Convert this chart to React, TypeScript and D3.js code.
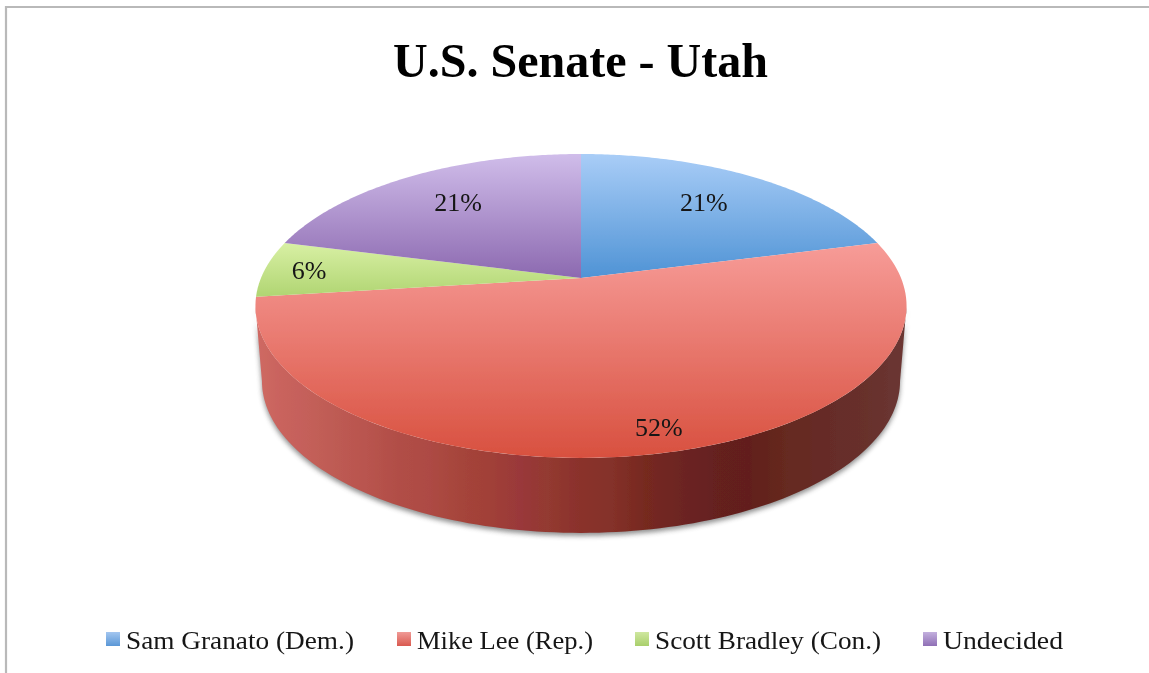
import * as d3 from 'd3';

const candidates = ['Sam Granato (Dem.)', 'Mike Lee (Rep.)', 'Scott Bradley (Con.)', 'Undecided'];
const shares = [21, 52, 6, 21];

// top / bottom colour of each slice's vertical gradient
const topColors = ['#a9cdf7', '#f79c98', '#d8f0a4', '#d0bdea'];
const bottomColors = ['#4f93d5', '#d8503f', '#b0d572', '#8c69b0'];
const legendTop = ['#a3c6f0', '#f09a96', '#cfe7a0', '#c3b0de'];
const legendBottom = ['#5a97d6', '#d95a50', '#a9cf6b', '#8f6fb5'];

// side wall shading, left to right, the picture has faint vertical bands
const wallStops: [number, string][] = [
  [0, '#cf6a64'], [0.04, '#c9635d'], [0.08, '#c4605a'], [0.13, '#bd5a52'], [0.17, '#b9544f'],
  [0.22, '#b14e46'], [0.27, '#ad4a44'], [0.32, '#a5443a'], [0.36, '#a14038'], [0.41, '#99383a'],
  [0.45, '#933a30'], [0.5, '#8a302c'], [0.55, '#843029'], [0.6, '#76291f'], [0.64, '#6f2622'],
  [0.7, '#662020'], [0.76, '#621f1c'], [0.82, '#662a20'], [0.88, '#662c28'], [0.94, '#67302c'], [1, '#6c3733'],
];

const width = 1149;
const height = 673;

// perspective view of the disc: apex is above the ellipse centre
const cx = 581;
const cy = 278;
const scaleU = 320;
const scaleV = 146.8;
const persp = 0.184;
const wallDrop = 75;
const wallShrink = 0.98;

const project = (angle: number, r = 1, shrink = 1, drop = 0): [number, number] => {
  const u = Math.sin(angle) * r;
  const v = -Math.cos(angle) * r;
  const w = 1 - persp * v;
  return [cx + (scaleU * shrink * u) / w, cy + drop + (scaleV * v) / w];
};

const pie = d3.pie<number>().sort(null).value((d) => d);
const arcs = pie(shares);
const line = d3.line();

const rimAngles = (a0: number, a1: number) =>
  d3.range(0, 121).map((i) => a0 + ((a1 - a0) * i) / 120);

const slicePath = (a0: number, a1: number) =>
  line([[cx, cy], ...rimAngles(a0, a1).map((a) => project(a))]) + 'Z';

// wall runs between the two points where the rim is widest
const tangent = Math.acos(-(persp * 1));
const wallTop = rimAngles(tangent, 2 * Math.PI - tangent).map((a) => project(a));
const wallBottom = rimAngles(tangent, 2 * Math.PI - tangent)
  .reverse()
  .map((a) => project(a, 1, wallShrink, wallDrop));
const wallPath = line([...wallTop, ...wallBottom]) + 'Z';

const labelRadius = [0.72, 0.87, 0.86, 0.72];
const labelNudge = [-5, 16, 0, 5];

const legendX = [106, 397, 635, 923];
const legendTextX = [126, 417, 655, 943];
const legendTextW = [228, 176, 226, 120];

const serif = "'Liberation Serif', serif";

const App = () => (
  <svg width={width} height={height} style={{ position: 'absolute', left: 0, top: 0, background: '#fff' }}>
    <defs>
      <filter id="soft" x="-5%" y="-5%" width="110%" height="110%">
        <feGaussianBlur stdDeviation="0.5" />
      </filter>
      <filter id="shadow" x="-10%" y="-20%" width="120%" height="140%">
        <feGaussianBlur stdDeviation="2.5" />
      </filter>
      <linearGradient id="wall" gradientUnits="userSpaceOnUse" x1={255} x2={906} y1={0} y2={0}>
        {wallStops.map(([o, c]) => (
          <stop key={o} offset={o} stopColor={c} />
        ))}
      </linearGradient>
      {arcs.map((d, i) => {
        const ys = rimAngles(d.startAngle, d.endAngle).map((a) => project(a)[1]).concat(cy);
        return (
          <linearGradient key={i} id={`slice${i}`} gradientUnits="userSpaceOnUse" x1={0} x2={0} y1={d3.min(ys)} y2={d3.max(ys)}>
            <stop offset={0} stopColor={topColors[i]} />
            <stop offset={1} stopColor={bottomColors[i]} />
          </linearGradient>
        );
      })}
      {candidates.map((_, i) => (
        <linearGradient key={i} id={`key${i}`} x1={0} x2={0} y1={0} y2={1}>
          <stop offset={0} stopColor={legendTop[i]} />
          <stop offset={1} stopColor={legendBottom[i]} />
        </linearGradient>
      ))}
    </defs>

    {/* frame, only top and left are in the crop */}
    <path d={`M6,${height}V7H${width}`} fill="none" stroke="#b9b9b9" strokeWidth={2.2} />

    <path d={wallPath} fill="#555" opacity={0.65} transform="translate(0,3)" filter="url(#shadow)" />

    <g filter="url(#soft)">
      <path d={wallPath} fill="url(#wall)" />
      {arcs.map((d, i) => (
        <path key={i} d={slicePath(d.startAngle, d.endAngle)} fill={`url(#slice${i})`} />
      ))}

      {arcs.map((d, i) => {
        const [x, y] = project((d.startAngle + d.endAngle) / 2, labelRadius[i]);
        return (
          <text key={i} x={x + labelNudge[i]} y={y + 9} textAnchor="middle" fontFamily={serif} fontSize={26} fill="#151515">
            {shares[i]}%
          </text>
        );
      })}

      <text x={393} y={77} textLength={375} lengthAdjust="spacingAndGlyphs" fontFamily={serif} fontWeight="bold" fontSize={48} fill="#000">
        U.S. Senate - Utah
      </text>

      {candidates.map((c, i) => (
        <g key={c}>
          <rect x={legendX[i]} y={632} width={14} height={14} fill={`url(#key${i})`} />
          <text x={legendTextX[i]} y={649} textLength={legendTextW[i]} lengthAdjust="spacingAndGlyphs" fontFamily={serif} fontSize={25} fill="#151515">
            {c}
          </text>
        </g>
      ))}
    </g>
  </svg>
);

export default App;
